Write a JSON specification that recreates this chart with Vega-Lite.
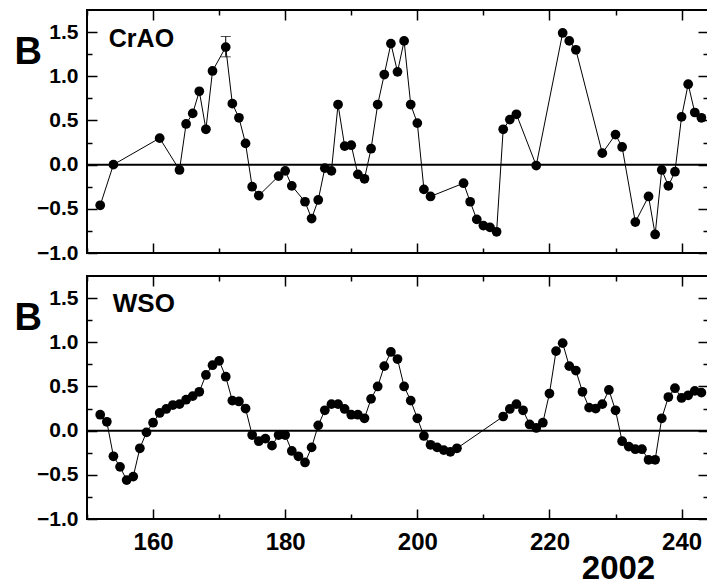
{
  "$schema": "https://vega.github.io/schema/vega-lite/v6.json",
  "padding": {"left": 13, "top": 8, "right": 0, "bottom": 0},
  "background": "white",
  "spacing": 23,
  "bounds": "flush",
  "config": {
    "view": {"stroke": "black", "strokeWidth": 2},
    "axis": {
      "domain": false, "grid": false, "tickColor": "black", "tickWidth": 1.5,
      "labelFont": "Liberation Sans", "labelFontWeight": "bold", "labelColor": "black",
      "titleFont": "Liberation Sans", "titleFontWeight": "bold", "titleColor": "black"
    }
  },
  "datasets": {
    "crao": [
      {"day":152,"B":-0.46},{"day":154,"B":0.00},{"day":161,"B":0.30},{"day":164,"B":-0.06},
      {"day":165,"B":0.46},{"day":166,"B":0.58},{"day":167,"B":0.83},{"day":168,"B":0.40},
      {"day":169,"B":1.06},{"day":171,"B":1.33},{"day":172,"B":0.69},{"day":173,"B":0.53},
      {"day":174,"B":0.24},{"day":175,"B":-0.25},{"day":176,"B":-0.35},{"day":179,"B":-0.13},
      {"day":180,"B":-0.07},{"day":181,"B":-0.24},{"day":183,"B":-0.42},{"day":184,"B":-0.61},
      {"day":185,"B":-0.40},{"day":186,"B":-0.04},{"day":187,"B":-0.07},{"day":188,"B":0.68},
      {"day":189,"B":0.21},{"day":190,"B":0.22},{"day":191,"B":-0.11},{"day":192,"B":-0.16},
      {"day":193,"B":0.18},{"day":194,"B":0.68},{"day":195,"B":1.02},{"day":196,"B":1.37},
      {"day":197,"B":1.05},{"day":198,"B":1.40},{"day":199,"B":0.68},{"day":200,"B":0.47},
      {"day":201,"B":-0.28},{"day":202,"B":-0.36},{"day":207,"B":-0.21},{"day":208,"B":-0.42},
      {"day":209,"B":-0.62},{"day":210,"B":-0.69},{"day":211,"B":-0.71},{"day":212,"B":-0.76},
      {"day":213,"B":0.40},{"day":214,"B":0.51},{"day":215,"B":0.57},{"day":218,"B":-0.01},
      {"day":222,"B":1.49},{"day":223,"B":1.40},{"day":224,"B":1.30},{"day":228,"B":0.13},
      {"day":230,"B":0.34},{"day":231,"B":0.20},{"day":233,"B":-0.65},{"day":235,"B":-0.36},
      {"day":236,"B":-0.79},{"day":237,"B":-0.06},{"day":238,"B":-0.24},{"day":239,"B":-0.08},
      {"day":240,"B":0.54},{"day":241,"B":0.91},{"day":242,"B":0.59},{"day":243,"B":0.53}
    ],
    "wso": [
      {"day":152,"B":0.18},{"day":153,"B":0.10},{"day":154,"B":-0.29},{"day":155,"B":-0.41},
      {"day":156,"B":-0.56},{"day":157,"B":-0.52},{"day":158,"B":-0.20},{"day":159,"B":-0.02},
      {"day":160,"B":0.09},{"day":161,"B":0.20},{"day":162,"B":0.245},{"day":163,"B":0.29},
      {"day":164,"B":0.30},{"day":165,"B":0.35},{"day":166,"B":0.39},{"day":167,"B":0.44},
      {"day":168,"B":0.63},{"day":169,"B":0.74},{"day":170,"B":0.79},{"day":171,"B":0.61},
      {"day":172,"B":0.34},{"day":173,"B":0.33},{"day":174,"B":0.25},{"day":175,"B":-0.05},
      {"day":176,"B":-0.12},{"day":177,"B":-0.09},{"day":178,"B":-0.17},{"day":179,"B":-0.05},
      {"day":180,"B":-0.05},{"day":181,"B":-0.23},{"day":182,"B":-0.29},{"day":183,"B":-0.36},
      {"day":184,"B":-0.19},{"day":185,"B":0.06},{"day":186,"B":0.23},{"day":187,"B":0.30},
      {"day":188,"B":0.30},{"day":189,"B":0.245},{"day":190,"B":0.18},{"day":191,"B":0.18},
      {"day":192,"B":0.14},{"day":193,"B":0.36},{"day":194,"B":0.50},{"day":195,"B":0.73},
      {"day":196,"B":0.89},{"day":197,"B":0.81},{"day":198,"B":0.50},{"day":199,"B":0.34},
      {"day":200,"B":0.14},{"day":201,"B":-0.06},{"day":202,"B":-0.16},{"day":203,"B":-0.19},
      {"day":204,"B":-0.22},{"day":205,"B":-0.24},{"day":206,"B":-0.20},{"day":213,"B":0.16},
      {"day":214,"B":0.245},{"day":215,"B":0.30},{"day":216,"B":0.23},{"day":217,"B":0.07},
      {"day":218,"B":0.03},{"day":219,"B":0.09},{"day":220,"B":0.42},{"day":221,"B":0.90},
      {"day":222,"B":0.99},{"day":223,"B":0.73},{"day":224,"B":0.68},{"day":225,"B":0.44},
      {"day":226,"B":0.26},{"day":227,"B":0.25},{"day":228,"B":0.30},{"day":229,"B":0.46},
      {"day":230,"B":0.23},{"day":231,"B":-0.12},{"day":232,"B":-0.18},{"day":233,"B":-0.21},
      {"day":234,"B":-0.21},{"day":235,"B":-0.33},{"day":236,"B":-0.33},{"day":237,"B":0.14},
      {"day":238,"B":0.38},{"day":239,"B":0.48},{"day":240,"B":0.37},{"day":241,"B":0.40},
      {"day":242,"B":0.45},{"day":243,"B":0.43}
    ]
  },
  "vconcat": [
    {
      "width": 621, "height": 243,
      "layer": [
        {
          "data": {"values": [{"z": 0}]},
          "mark": {"type": "rule", "color": "black", "strokeWidth": 2},
          "encoding": {
            "x": {"datum": 150, "type": "quantitative", "scale": {"domain": [150, 244], "nice": false, "zero": false},
                  "axis": {"orient": "bottom", "values": [160,180,200,220,240], "tickSize": -10, "labels": false, "title": null}},
            "x2": {"datum": 244},
            "y": {"field": "z", "type": "quantitative", "scale": {"domain": [-1, 1.75], "nice": false, "zero": false},
                  "axis": {"orient": "left", "values": [-1,-0.5,0,0.5,1,1.5], "format": ".1f", "tickSize": -10, "labelFontSize": 21, "labelPadding": 19,
                           "title": "B", "titleAngle": 0, "titleAlign": "left", "titleBaseline": "alphabetic", "titleX": -73, "titleY": 53, "titleFontSize": 38}}
          }
        },
        {
          "data": {"name": "crao"},
          "mark": {"type": "line", "color": "black", "strokeWidth": 1},
          "encoding": {
            "x": {"field": "day", "type": "quantitative", "axis": {"orient": "top", "values": [160,180,200,220,240], "tickSize": -10, "labels": false, "title": null}},
            "y": {"field": "B", "type": "quantitative", "axis": {"orient": "right", "values": [-1,-0.5,0,0.5,1,1.5], "tickSize": -10, "labels": false, "title": null}}
          }
        },
        {
          "data": {"values": [{"day": 171, "lo": 1.22, "hi": 1.45}]},
          "mark": {"type": "errorbar", "ticks": {"size": 10, "thickness": 1, "color": "black"}, "rule": {"color": "black", "strokeWidth": 1}},
          "encoding": {
            "x": {"field": "day", "type": "quantitative", "axis": null},
            "y": {"field": "lo", "type": "quantitative", "axis": null},
            "y2": {"field": "hi"}
          }
        },
        {
          "data": {"name": "crao"},
          "mark": {"type": "circle", "size": 95, "opacity": 1, "color": "black"},
          "encoding": {
            "x": {"field": "day", "type": "quantitative", "axis": {"orient": "bottom", "values": [150,170,190,210,230], "tickSize": -5, "labels": false, "title": null}},
            "y": {"field": "B", "type": "quantitative", "axis": {"orient": "left", "values": [-0.75,-0.25,0.25,0.75,1.25], "tickSize": -5, "labels": false, "title": null}}
          }
        },
        {
          "data": {"values": [{"label": "CrAO", "x": 153.3, "y": 1.33}]},
          "mark": {"type": "text", "font": "Liberation Sans", "fontWeight": "bold", "fontSize": 25, "align": "left", "baseline": "alphabetic", "color": "black"},
          "encoding": {
            "text": {"field": "label"},
            "x": {"field": "x", "type": "quantitative", "axis": {"orient": "top", "values": [150,170,190,210,230], "tickSize": -5, "labels": false, "title": null}},
            "y": {"field": "y", "type": "quantitative", "axis": {"orient": "right", "values": [-0.75,-0.25,0.25,0.75,1.25], "tickSize": -5, "labels": false, "title": null}}
          }
        }
      ],
      "resolve": {"axis": {"x": "independent", "y": "independent"}}
    },
    {
      "width": 621, "height": 243,
      "layer": [
        {
          "data": {"values": [{"z": 0}]},
          "mark": {"type": "rule", "color": "black", "strokeWidth": 2},
          "encoding": {
            "x": {"datum": 150, "type": "quantitative", "scale": {"domain": [150, 244], "nice": false, "zero": false},
                  "axis": {"orient": "bottom", "values": [160,180,200,220,240], "tickSize": -10, "labelFontSize": 24, "labelPadding": 21,
                           "title": "2002", "titleX": 531, "titleY": 59, "titleAlign": "center", "titleBaseline": "alphabetic", "titleFontSize": 33}},
            "x2": {"datum": 244},
            "y": {"field": "z", "type": "quantitative", "scale": {"domain": [-1, 1.75], "nice": false, "zero": false},
                  "axis": {"orient": "left", "values": [-1,-0.5,0,0.5,1,1.5], "format": ".1f", "tickSize": -10, "labelFontSize": 21, "labelPadding": 19,
                           "title": "B", "titleAngle": 0, "titleAlign": "left", "titleBaseline": "alphabetic", "titleX": -73, "titleY": 53, "titleFontSize": 38}}
          }
        },
        {
          "data": {"name": "wso"},
          "mark": {"type": "line", "color": "black", "strokeWidth": 1},
          "encoding": {
            "x": {"field": "day", "type": "quantitative", "axis": {"orient": "top", "values": [160,180,200,220,240], "tickSize": -10, "labels": false, "title": null}},
            "y": {"field": "B", "type": "quantitative", "axis": {"orient": "right", "values": [-1,-0.5,0,0.5,1,1.5], "tickSize": -10, "labels": false, "title": null}}
          }
        },
        {
          "data": {"name": "wso"},
          "mark": {"type": "circle", "size": 95, "opacity": 1, "color": "black"},
          "encoding": {
            "x": {"field": "day", "type": "quantitative", "axis": {"orient": "bottom", "values": [150,170,190,210,230], "tickSize": -5, "labels": false, "title": null}},
            "y": {"field": "B", "type": "quantitative", "axis": {"orient": "left", "values": [-0.75,-0.25,0.25,0.75,1.25], "tickSize": -5, "labels": false, "title": null}}
          }
        },
        {
          "data": {"values": [{"label": "WSO", "x": 153.9, "y": 1.345}]},
          "mark": {"type": "text", "font": "Liberation Sans", "fontWeight": "bold", "fontSize": 26, "align": "left", "baseline": "alphabetic", "color": "black"},
          "encoding": {
            "text": {"field": "label"},
            "x": {"field": "x", "type": "quantitative", "axis": {"orient": "top", "values": [150,170,190,210,230], "tickSize": -5, "labels": false, "title": null}},
            "y": {"field": "y", "type": "quantitative", "axis": {"orient": "right", "values": [-0.75,-0.25,0.25,0.75,1.25], "tickSize": -5, "labels": false, "title": null}}
          }
        }
      ],
      "resolve": {"axis": {"x": "independent", "y": "independent"}}
    }
  ]
}
